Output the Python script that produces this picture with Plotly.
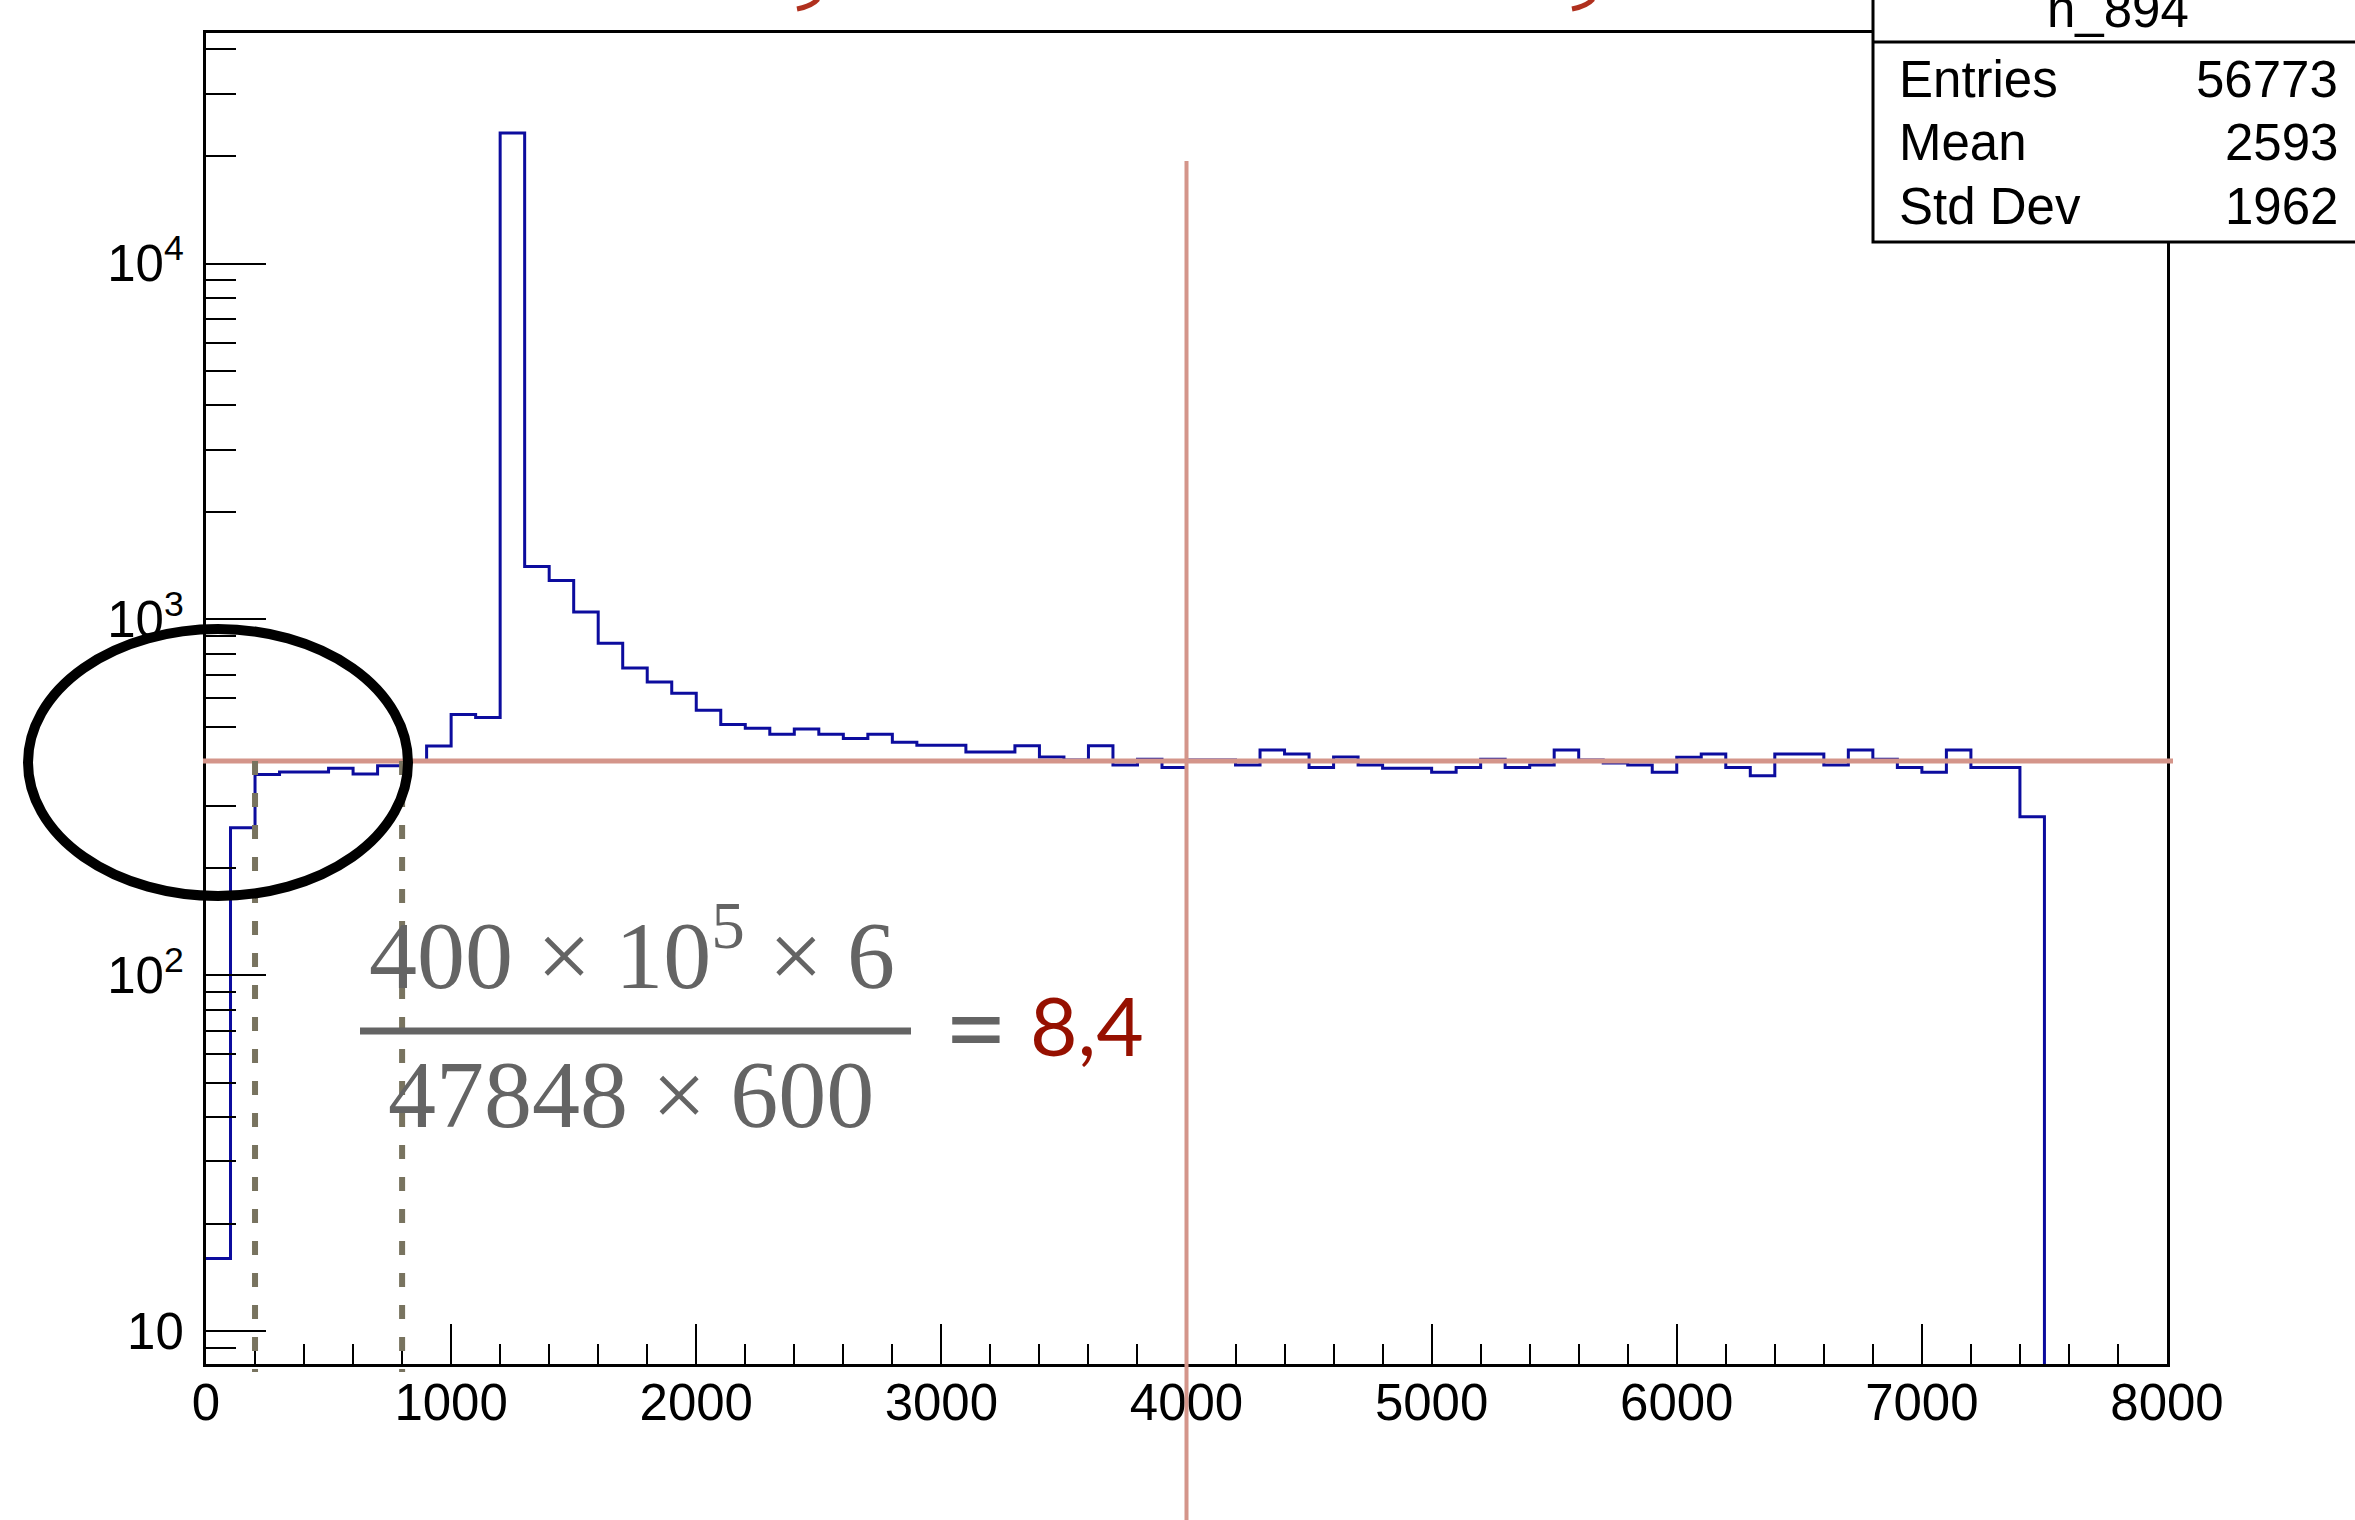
import math
import plotly.graph_objects as go

# ---------------- data ----------------
bin_width = 100
bin_edges = [i * bin_width for i in range(81)]  # 0 .. 8000
counts = [
    16, 260, 367, 373, 373, 382, 368, 388, 401, 441,          # 0 - 1000
    541, 530, 23300, 1410, 1288, 1050, 857, 731, 667, 621,    # 1000 - 2000
    556, 507, 495, 476, 492, 476, 463, 476, 452, 443,         # 2000 - 3000
    443, 424, 424, 442, 411, 403, 442, 390, 405, 384,         # 3000 - 4000
    403, 403, 390, 430, 419, 384, 411, 390, 382, 382,         # 4000 - 5000
    372, 384, 405, 384, 390, 430, 403, 395, 390, 372,         # 5000 - 6000
    410, 419, 384, 364, 419, 419, 390, 430, 405, 384,         # 6000 - 7000
    372, 430, 384, 384, 279, 0, 0, 0, 0, 0,                   # 7000 - 8000
]
stats_labels = ["Entries", "Mean", "Std Dev"]
stats_values = ["56773", "2593", "1962"]
hist_name = "h_894"
level = 400
vline_x = 4000
window = [200, 800]
x_ticks = [0, 1000, 2000, 3000, 4000, 5000, 6000, 7000, 8000]
y_ticks = [10, 100, 1000, 10000]
y_ticktext = ["10", "10<sup>2</sup>", "10<sup>3</sup>", "10<sup>4</sup>"]
formula_num = "400 × 10<sup>5</sup> × 6"
formula_den = "47848 × 600"
formula_res = "8,4"

# ---------------- geometry ----------------
W, H = 2355, 1520
L, R, T, B = 206, 188, 33, 156
PW, PH = W - L - R, H - T - B
ymin, ymax = 0.908, 4.648


def px(x):
    return (x - L) / PW


def py(y):
    return (T + PH - y) / PH


floor_val = 10 ** (ymin - 1)
y_draw = [c if c > 0 else floor_val for c in counts]
y_draw = y_draw + [y_draw[-1]]

fig = go.Figure()
fig.add_trace(go.Scatter(
    x=bin_edges, y=y_draw, mode="lines", line_shape="hv",
    line=dict(color="#0c0c9e", width=3), hoverinfo="skip", showlegend=False,
))

minor_vals = [k * 10 ** n for n in range(0, 5) for k in range(2, 10)
              if ymin <= math.log10(k * 10 ** n) <= ymax]

axis_font = dict(family="Liberation Sans, Arial, sans-serif", size=51, color="black")

fig.update_layout(
    width=W, height=H,
    margin=dict(l=L, r=R, t=T, b=B, pad=0),
    paper_bgcolor="white", plot_bgcolor="white",
    showlegend=False,
    xaxis=dict(
        range=[0, 8000], tickmode="array", tickvals=x_ticks,
        ticks="inside", ticklen=40, tickwidth=2, tickcolor="black",
        minor=dict(dtick=200, tick0=0, ticks="inside", ticklen=20, tickwidth=2, tickcolor="black"),
        showline=True, linecolor="black", linewidth=3, mirror=True,
        showgrid=False, zeroline=False, tickfont=axis_font,
        ticklabelstandoff=-8,
    ),
    yaxis=dict(
        type="log", range=[ymin, ymax], tickmode="array",
        tickvals=y_ticks, ticktext=y_ticktext,
        ticks="inside", ticklen=60, tickwidth=2, tickcolor="black",
        minor=dict(tickmode="array", tickvals=minor_vals, ticks="inside",
                   ticklen=30, tickwidth=2, tickcolor="black"),
        showline=True, linecolor="black", linewidth=3, mirror=True,
        showgrid=False, zeroline=False, tickfont=axis_font,
        ticklabelstandoff=9,
    ),
)

shapes = []
salmon = "#d4958a"
# horizontal reference level
shapes.append(dict(type="line", xref="paper", yref="y", x0=px(203), x1=px(2173),
                   y0=level, y1=level, line=dict(color=salmon, width=5), layer="above"))
# vertical line at 4000
shapes.append(dict(type="line", xref="x", yref="paper", x0=vline_x, x1=vline_x,
                   y0=py(161), y1=py(1525), line=dict(color=salmon, width=4), layer="above"))
# dashed window lines
y_level_paper = (math.log10(level) - ymin) / (ymax - ymin)
for wx in window:
    shapes.append(dict(type="line", xref="x", yref="paper", x0=wx, x1=wx,
                       y0=y_level_paper, y1=py(1372),
                       line=dict(color="#78735f", width=6, dash="14px,18px"), layer="above"))
# ellipse
shapes.append(dict(type="circle", xref="paper", yref="paper",
                   x0=px(28), x1=px(408), y0=py(896), y1=py(629),
                   line=dict(color="black", width=10), layer="above"))
# fraction bar
shapes.append(dict(type="line", xref="paper", yref="paper", x0=px(360), x1=px(911),
                   y0=py(1031), y1=py(1031), line=dict(color="#646464", width=7), layer="above"))
# stats box
shapes.append(dict(type="rect", xref="paper", yref="paper", x0=px(1873), x1=px(2370),
                   y0=py(242), y1=py(-30), fillcolor="white",
                   line=dict(color="black", width=3), layer="above"))
shapes.append(dict(type="line", xref="paper", yref="paper", x0=px(1873), x1=px(2370),
                   y0=py(42), y1=py(42), line=dict(color="black", width=3), layer="above"))
# red cut-off glyph tails at top
for x_end in (818, 1593):
    shapes.append(dict(type="path", xref="paper", yref="paper",
                       path=f"M {px(x_end)},{py(-1)} Q {px(x_end - 6)},{py(6)} {px(x_end - 21)},{py(9)}",
                       line=dict(color="#b0301e", width=5), layer="above"))
fig.update_layout(shapes=shapes)

ann = []
stat_font = dict(family="Liberation Sans, Arial, sans-serif", size=51, color="black")
ann.append(dict(xref="paper", yref="paper", x=px(2118), y=py(38), text=hist_name,
                showarrow=False, xanchor="center", yanchor="bottom", font=stat_font,
                borderpad=0, borderwidth=0))
for i, (lab, val) in enumerate(zip(stats_labels, stats_values)):
    base = 97 + i * 63.5
    ann.append(dict(xref="paper", yref="paper", x=px(1899), y=py(base + 10.6), text=lab,
                    showarrow=False, xanchor="left", yanchor="bottom", font=stat_font,
                    borderpad=0, borderwidth=0))
    ann.append(dict(xref="paper", yref="paper", x=px(2338), y=py(base + 10.6), text=val,
                    showarrow=False, xanchor="right", yanchor="bottom", font=stat_font,
                    borderpad=0, borderwidth=0))
serif = dict(family="Liberation Serif, Times New Roman, serif", size=96, color="#646464")
ann.append(dict(xref="paper", yref="paper", x=px(632), y=py(1009), text=formula_num,
                showarrow=False, xanchor="center", yanchor="bottom", font=serif,
                borderpad=0, borderwidth=0))
ann.append(dict(xref="paper", yref="paper", x=px(631), y=py(1148), text=formula_den,
                showarrow=False, xanchor="center", yanchor="bottom", font=serif,
                borderpad=0, borderwidth=0))
ann.append(dict(xref="paper", yref="paper", x=px(976), y=py(1090), text="=",
                showarrow=False, xanchor="center", yanchor="bottom",
                font=dict(family="Lato, sans-serif", size=110, color="#646464"),
                borderpad=0, borderwidth=0))
ann.append(dict(xref="paper", yref="paper", x=px(1030), y=py(1073), text=formula_res,
                showarrow=False, xanchor="left", yanchor="bottom",
                font=dict(family="Lato, sans-serif", size=82, color="#961000"),
                borderpad=0, borderwidth=0))
fig.update_layout(annotations=ann)

fig.write_html("out.html")
